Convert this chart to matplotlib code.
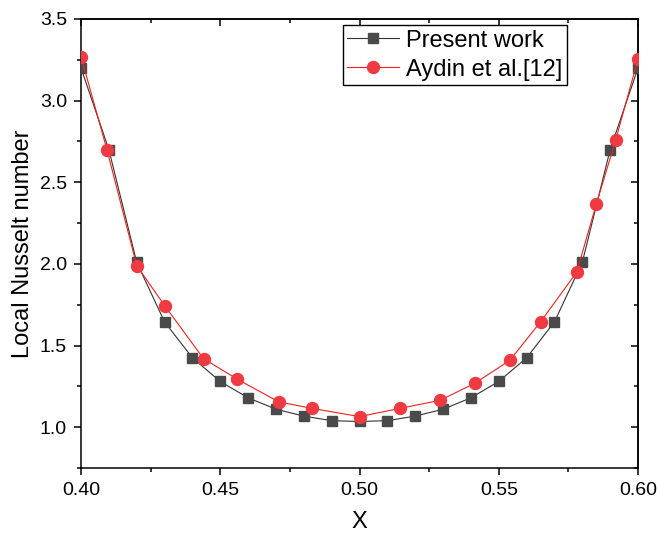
import matplotlib
matplotlib.use("Agg")
import matplotlib.pyplot as plt
from matplotlib.ticker import MultipleLocator, FormatStrFormatter

plt.rcParams['font.family'] = ['Liberation Sans', 'DejaVu Sans']

# Present work
x_present = [0.40, 0.41, 0.42, 0.43, 0.44, 0.45, 0.46, 0.47, 0.48, 0.49, 0.50,
             0.51, 0.52, 0.53, 0.54, 0.55, 0.56, 0.57, 0.58, 0.59, 0.60]
nu_present = [3.20, 2.70, 2.01, 1.645, 1.425, 1.28, 1.18, 1.11, 1.068, 1.04, 1.035,
              1.04, 1.068, 1.11, 1.18, 1.28, 1.425, 1.645, 2.01, 2.70, 3.20]

# Aydin et al.[12]
x_aydin = [0.40, 0.4093, 0.42, 0.43, 0.444, 0.456, 0.471, 0.483, 0.50,
           0.5145, 0.529, 0.5415, 0.554, 0.565, 0.578, 0.585, 0.592, 0.60]
nu_aydin = [3.27, 2.70, 1.99, 1.745, 1.42, 1.295, 1.155, 1.115, 1.065,
            1.115, 1.165, 1.27, 1.41, 1.645, 1.95, 2.365, 2.76, 3.255]

fig = plt.figure(figsize=(6.57, 5.35), dpi=100)
ax = fig.add_axes([0.1233, 0.1252, 0.8478, 0.8393])

ax.plot(x_present, nu_present, color='#333333', lw=0.8, marker='s', ms=7.2,
        mfc='#4a4a4a', mec='#4a4a4a', label='Present work', zorder=3)
ax.plot(x_aydin, nu_aydin, color='#f02020', lw=0.8, marker='o', ms=8.6,
        mfc='#ee3a40', mec='#ee3a40', label='Aydin et al.[12]', zorder=4)

ax.set_xlim(0.40, 0.60)
ax.set_ylim(0.75, 3.5)
ax.xaxis.set_major_locator(MultipleLocator(0.05))
ax.xaxis.set_minor_locator(MultipleLocator(0.025))
ax.yaxis.set_major_locator(MultipleLocator(0.5))
ax.yaxis.set_minor_locator(MultipleLocator(0.25))
ax.xaxis.set_major_formatter(FormatStrFormatter('%.2f'))
ax.yaxis.set_major_formatter(FormatStrFormatter('%.1f'))
ax.set_yticks([1.0, 1.5, 2.0, 2.5, 3.0, 3.5])

ax.tick_params(which='major', direction='out', length=5, width=1.1, labelsize=14, pad=5)
ax.tick_params(which='minor', direction='out', length=3, width=1.1)
for s in ax.spines.values():
    s.set_linewidth(1.1)

secx = ax.secondary_xaxis('top')
secx.xaxis.set_major_locator(MultipleLocator(0.05))
secx.xaxis.set_minor_locator(MultipleLocator(0.025))
secx.tick_params(which='major', direction='in', length=5, width=1.1, labeltop=False)
secx.tick_params(which='minor', direction='in', length=3, width=1.1)
secx.spines['top'].set_linewidth(1.1)

secy = ax.secondary_yaxis('right')
secy.yaxis.set_major_locator(MultipleLocator(0.5))
secy.yaxis.set_minor_locator(MultipleLocator(0.25))
secy.tick_params(which='major', direction='in', length=5, width=1.1, labelright=False)
secy.tick_params(which='minor', direction='in', length=3, width=1.1)
secy.spines['right'].set_linewidth(1.1)

ax.set_xlabel('X', fontsize=17, labelpad=9)
ax.set_ylabel('Local Nusselt number', fontsize=17, labelpad=4)

leg = ax.legend(loc='upper right', bbox_to_anchor=(0.873, 0.987), fontsize=17,
                frameon=True, fancybox=False, edgecolor='black', framealpha=1,
                handlelength=2.2, handletextpad=0.3, borderpad=0.2,
                labelspacing=0.3, borderaxespad=0.0)
leg.get_frame().set_linewidth(1.0)

fig.savefig('out.png', dpi=100)
